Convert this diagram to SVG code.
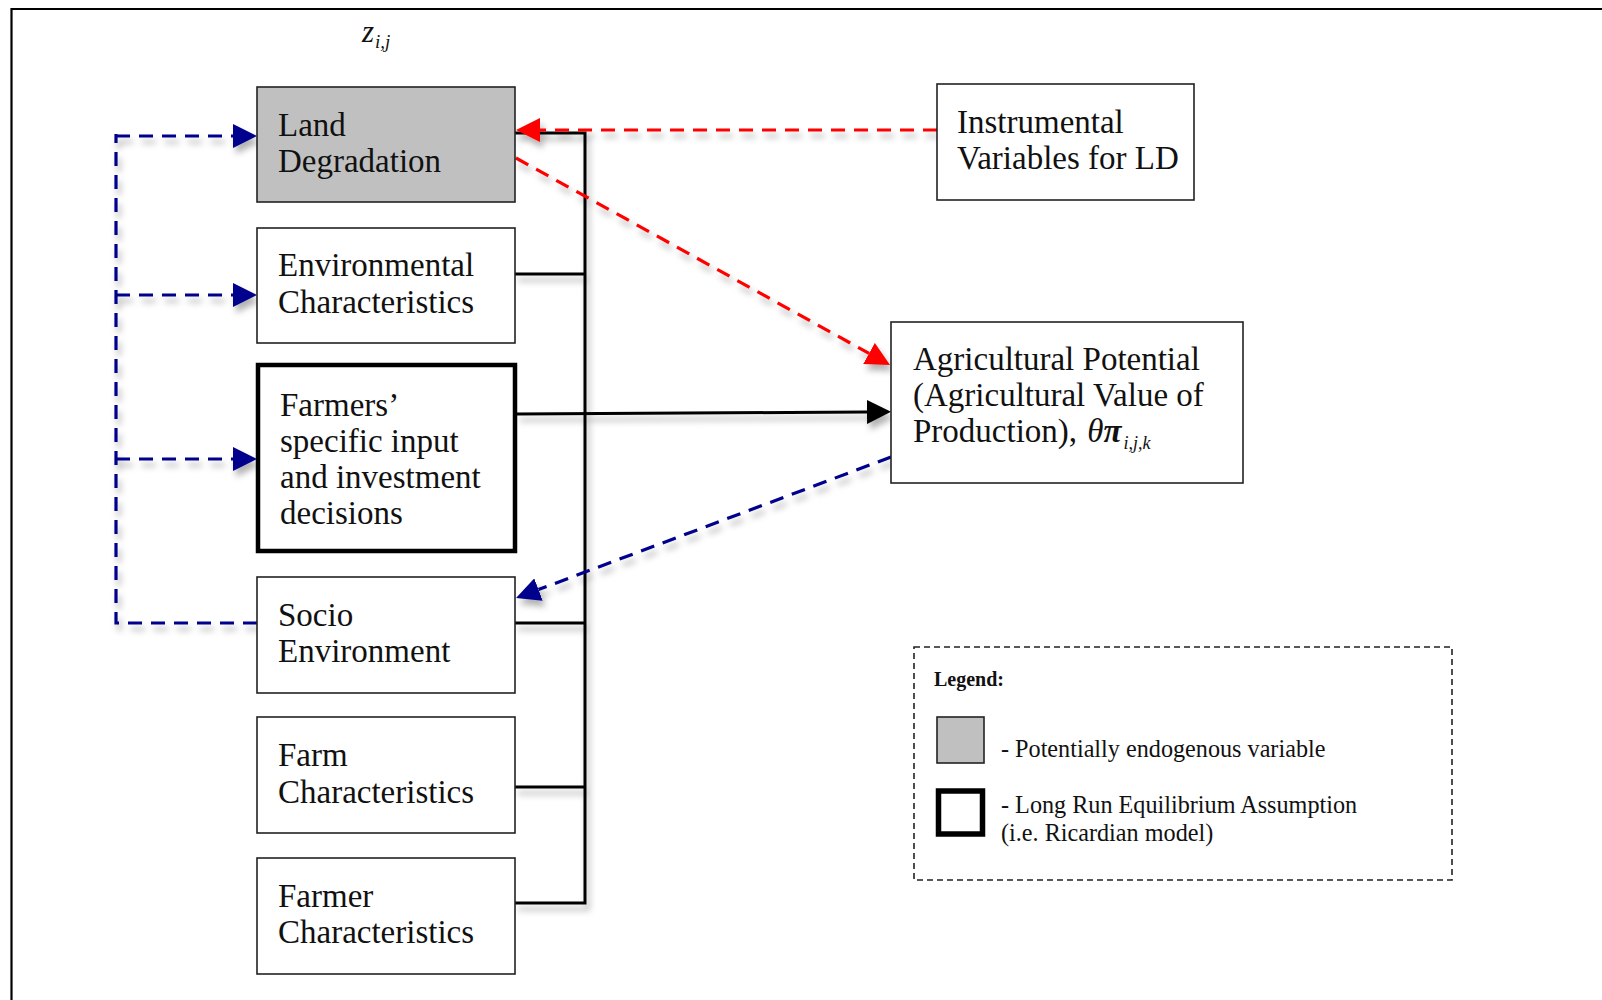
<svg xmlns="http://www.w3.org/2000/svg" width="1602" height="1000" viewBox="0 0 1602 1000">
<style>
.box{fill:#fff;stroke:#222;stroke-width:1.6}
.lbl{font-family:"Liberation Serif",serif;font-size:33px;fill:#111}
.blk{fill:none;stroke:#000;stroke-width:3}
.red{fill:none;stroke:#ff0000;stroke-width:3.2;stroke-dasharray:14,9}
.blu{fill:none;stroke:#00008c;stroke-width:3.2;stroke-dasharray:14,9}
.leg{font-family:"Liberation Serif",serif;font-size:24.2px;fill:#111}
</style>
<defs>
<filter id="sh" filterUnits="userSpaceOnUse" x="0" y="0" width="1602" height="1000">
<feDropShadow dx="3" dy="6" stdDeviation="3" flood-color="#000" flood-opacity="0.3"/>
</filter>
<marker id="aK" markerUnits="userSpaceOnUse" markerWidth="24" markerHeight="24" refX="0" refY="12" orient="auto"><path d="M0,0 L24,12 L0,24 z" fill="#000"/></marker>
<marker id="aR" markerUnits="userSpaceOnUse" markerWidth="24" markerHeight="24" refX="0" refY="12" orient="auto"><path d="M0,0 L24,12 L0,24 z" fill="#ff0000"/></marker>
<marker id="aB" markerUnits="userSpaceOnUse" markerWidth="24" markerHeight="24" refX="0" refY="12" orient="auto"><path d="M0,0 L24,12 L0,24 z" fill="#00008c"/></marker>
</defs>
<rect width="1602" height="1000" fill="#fff"/>
<path d="M11.5,1000 V9 H1602" fill="none" stroke="#000" stroke-width="2.2"/>
<text x="362" y="42" font-family="Liberation Serif,serif" font-style="italic" font-size="31" fill="#111">z<tspan font-size="19" dy="6" dx="1">i,j</tspan></text>

<g id="connectors" filter="url(#sh)">
<path class="blk" d="M515,133 H585 V903 H515"/>
<path class="blk" d="M515,274 H585"/>
<path class="blk" d="M515,623 H585"/>
<path class="blk" d="M515,787 H585"/>
<path class="blk" d="M517,414 L867,412" marker-end="url(#aK)"/>
<path class="red" d="M937,130 H540" marker-end="url(#aR)"/>
<path class="red" d="M516,158 L869,353.4" marker-end="url(#aR)"/>
<path class="blu" d="M891,457 L538.5,589.6" marker-end="url(#aB)"/>
<path class="blu" d="M257,623 H116 V134"/>
<path class="blu" d="M116,136 H233" marker-end="url(#aB)"/>
<path class="blu" d="M116,295 H233" marker-end="url(#aB)"/>
<path class="blu" d="M116,459 H233" marker-end="url(#aB)"/>
</g>

<g id="land-degradation">
<rect class="box" x="257" y="87" width="258" height="115" style="fill:#c0c0c0"/>
<text class="lbl" x="278" y="136">Land</text>
<text class="lbl" x="278" y="172">Degradation</text>
</g>
<g id="environmental">
<rect class="box" x="257" y="228" width="258" height="115"/>
<text class="lbl" x="278" y="276">Environmental</text>
<text class="lbl" x="278" y="313">Characteristics</text>
</g>
<g id="farmers-decisions">
<rect class="box" x="258" y="365" width="257" height="186" style="stroke:#000;stroke-width:4.5"/>
<text class="lbl" x="280" y="416">Farmers’</text>
<text class="lbl" x="280" y="452">specific input</text>
<text class="lbl" x="280" y="488">and investment</text>
<text class="lbl" x="280" y="524">decisions</text>
</g>
<g id="socio">
<rect class="box" x="257" y="577" width="258" height="116"/>
<text class="lbl" x="278" y="626">Socio</text>
<text class="lbl" x="278" y="662">Environment</text>
</g>
<g id="farm">
<rect class="box" x="257" y="717" width="258" height="116"/>
<text class="lbl" x="278" y="766">Farm</text>
<text class="lbl" x="278" y="803">Characteristics</text>
</g>
<g id="farmer">
<rect class="box" x="257" y="858" width="258" height="116"/>
<text class="lbl" x="278" y="907">Farmer</text>
<text class="lbl" x="278" y="943">Characteristics</text>
</g>
<g id="instrumental">
<rect class="box" x="937" y="84" width="257" height="116"/>
<text class="lbl" x="957" y="133">Instrumental</text>
<text class="lbl" x="957" y="169">Variables for LD</text>
</g>
<g id="agricultural-potential">
<rect class="box" x="891" y="322" width="352" height="161"/>
<text class="lbl" x="913" y="370">Agricultural Potential</text>
<text class="lbl" x="913" y="406">(Agricultural Value of</text>
<text class="lbl" x="913" y="442">Production), <tspan font-style="italic" dx="2">θ</tspan><tspan font-style="italic" font-weight="bold">π</tspan><tspan font-style="italic" font-size="18" dy="7" dx="2">i,j,k</tspan></text>
</g>
<g id="legend">
<rect x="914" y="647" width="538" height="233" fill="none" stroke="#222" stroke-width="1.6" stroke-dasharray="6,4"/>
<text x="934" y="686" font-family="Liberation Serif,serif" font-weight="bold" font-size="20" fill="#111">Legend:</text>
<rect x="937" y="717" width="47" height="46" fill="#c0c0c0" stroke="#222" stroke-width="1.6"/>
<text class="leg" x="1001" y="757">- Potentially endogenous variable</text>
<rect x="938.5" y="791" width="44" height="43" fill="#fff" stroke="#000" stroke-width="5.5"/>
<text class="leg" x="1001" y="813">- Long Run Equilibrium Assumption</text>
<text class="leg" x="1001" y="841">(i.e. Ricardian model)</text>
</g>
</svg>
